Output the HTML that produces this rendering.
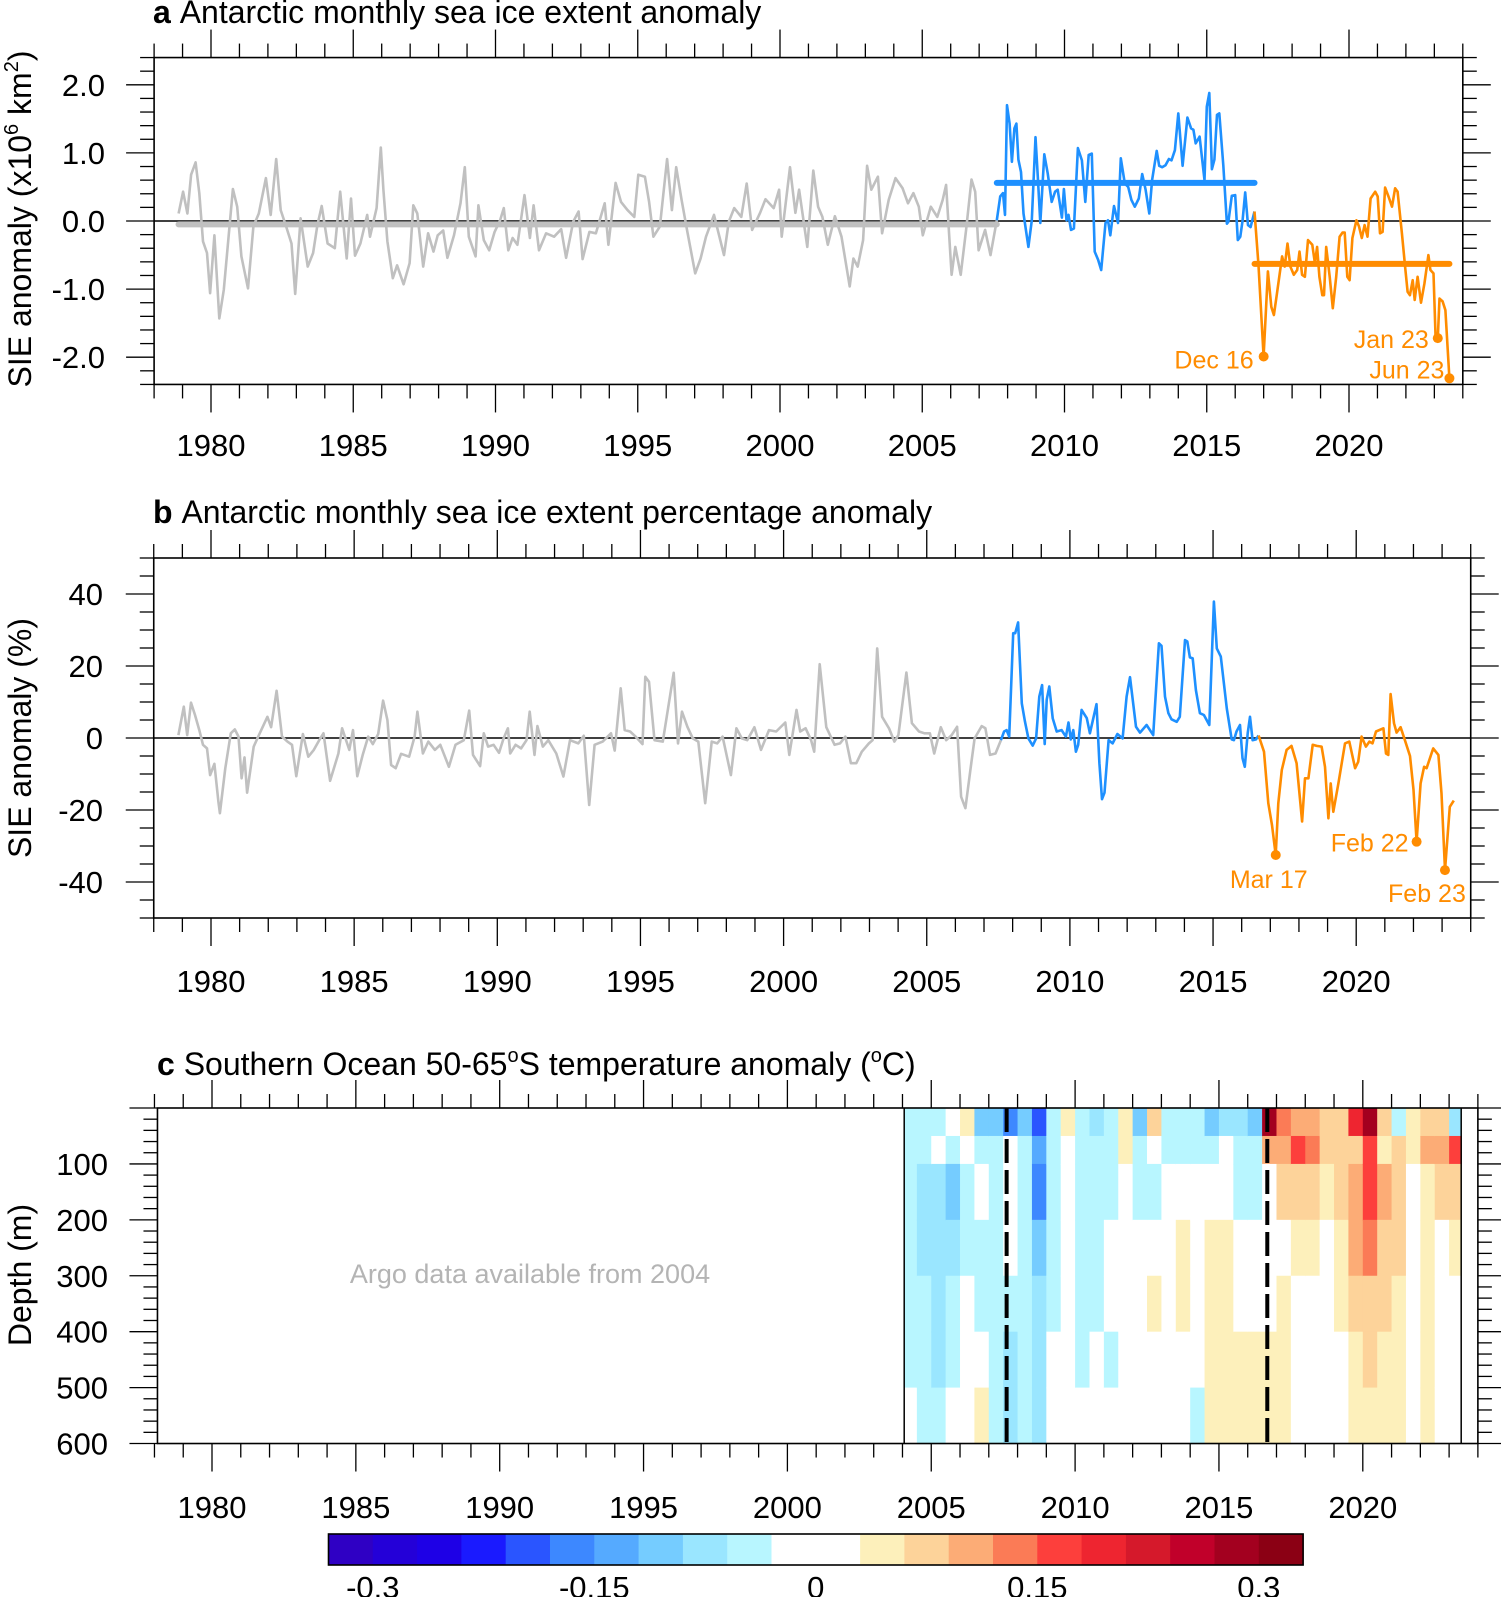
<!DOCTYPE html>
<html><head><meta charset="utf-8">
<style>
html,body{margin:0;padding:0;background:#fff;}
svg{display:block;font-family:"Liberation Sans",Arial,sans-serif;}
</style></head>
<body>
<svg id="fig" width="1501" height="1597" viewBox="0 0 1501 1597" xmlns="http://www.w3.org/2000/svg">
  <g id="pa"></g>
  <g id="pb"></g>
  <g id="pc"></g>
</svg>
<script>
// ---------- Panel a data ----------
const aGrayT=[1978.86,1979.02,1979.17,1979.30,1979.46,1979.59,1979.72,1979.86,1979.97,1980.12,1980.29,1980.45,1980.64,1980.77,1980.92,1981.07,1981.30,1981.49,1981.68,1981.93,1982.10,1982.29,1982.45,1982.64,1982.83,1982.96,1983.15,1983.40,1983.59,1983.74,1983.89,1984.10,1984.35,1984.54,1984.77,1984.92,1985.06,1985.25,1985.49,1985.59,1985.82,1985.97,1986.06,1986.20,1986.39,1986.54,1986.77,1986.98,1987.11,1987.25,1987.46,1987.63,1987.82,1987.97,1988.16,1988.31,1988.54,1988.77,1988.92,1989.06,1989.30,1989.40,1989.59,1989.78,1989.97,1990.16,1990.29,1990.45,1990.60,1990.77,1991.02,1991.21,1991.34,1991.53,1991.78,1992.06,1992.31,1992.48,1992.73,1992.92,1993.06,1993.30,1993.53,1993.84,1993.97,1994.22,1994.41,1994.64,1994.88,1995.02,1995.25,1995.40,1995.55,1995.78,1996.03,1996.20,1996.35,1996.54,1996.73,1997.02,1997.21,1997.40,1997.68,1998.03,1998.20,1998.39,1998.64,1998.83,1999.02,1999.30,1999.49,1999.78,1999.97,2000.06,2000.35,2000.54,2000.67,2000.96,2001.17,2001.34,2001.49,2001.68,2001.93,2002.16,2002.45,2002.58,2002.73,2002.92,2003.06,2003.21,2003.44,2003.59,2003.82,2004.06,2004.31,2004.50,2004.69,2004.88,2005.02,2005.30,2005.53,2005.72,2005.84,2006.03,2006.16,2006.35,2006.54,2006.73,2006.86,2006.98,2007.21,2007.40,2007.62];
const aGrayV=[0.11,0.43,0.11,0.68,0.86,0.41,-0.30,-0.47,-1.06,-0.21,-1.43,-1.01,-0.13,0.47,0.21,-0.52,-0.99,-0.08,0.11,0.63,0.09,0.91,0.16,-0.08,-0.33,-1.07,0.04,-0.67,-0.47,-0.06,0.22,-0.33,-0.40,0.43,-0.55,0.33,-0.51,-0.33,0.09,-0.23,0.19,1.08,0.46,-0.30,-0.84,-0.65,-0.93,-0.62,0.23,0.11,-0.67,-0.18,-0.45,-0.21,-0.14,-0.54,-0.21,0.26,0.79,-0.23,-0.52,0.23,-0.28,-0.43,-0.16,0.01,0.19,-0.43,-0.25,-0.35,0.38,-0.25,0.23,-0.43,-0.18,-0.23,-0.12,-0.54,-0.01,0.14,-0.56,-0.16,-0.18,0.26,-0.35,0.56,0.28,0.16,0.06,0.68,0.65,0.28,-0.23,-0.08,0.91,0.16,0.79,0.31,-0.13,-0.77,-0.55,-0.23,0.09,-0.50,-0.01,0.19,0.06,0.55,-0.13,0.12,0.32,0.19,0.46,-0.23,0.79,0.12,0.46,-0.38,0.74,0.21,0.06,-0.35,0.07,-0.23,-0.96,-0.55,-0.67,-0.28,0.81,0.46,0.65,-0.18,0.31,0.63,0.48,0.26,0.41,0.21,-0.21,0.21,0.06,0.31,0.53,-0.79,-0.38,-0.79,-0.13,0.61,0.43,-0.43,-0.13,-0.50,0.01];
const aBlueT=[2007.62,2007.74,2007.84,2007.91,2007.98,2008.07,2008.15,2008.24,2008.31,2008.38,2008.47,2008.56,2008.73,2008.85,2008.98,2009.06,2009.15,2009.29,2009.41,2009.55,2009.67,2009.76,2009.91,2009.98,2010.07,2010.14,2010.23,2010.33,2010.47,2010.61,2010.73,2010.85,2010.96,2011.06,2011.18,2011.29,2011.44,2011.53,2011.61,2011.74,2011.88,2011.98,2012.12,2012.24,2012.35,2012.47,2012.61,2012.73,2012.85,2012.98,2013.08,2013.24,2013.33,2013.43,2013.55,2013.67,2013.76,2013.88,2014.00,2014.15,2014.32,2014.45,2014.53,2014.61,2014.75,2014.92,2015.00,2015.09,2015.18,2015.27,2015.36,2015.44,2015.58,2015.71,2015.76,2015.88,2016.00,2016.09,2016.18,2016.26,2016.35,2016.45,2016.54,2016.68];
const aBlueV=[0.01,0.36,0.41,0.09,1.70,1.43,0.87,1.36,1.43,0.90,0.72,0.11,-0.38,0.01,1.23,0.65,-0.03,0.98,0.70,0.28,0.43,0.46,0.05,0.47,0.01,0.09,-0.13,-0.11,1.07,0.89,0.28,0.97,0.99,-0.45,-0.57,-0.72,-0.03,0.01,-0.21,0.22,-0.03,0.92,0.55,0.50,0.31,0.21,0.33,0.69,0.46,0.11,0.60,1.03,0.81,0.79,0.82,0.91,0.89,1.04,1.58,0.81,1.52,1.36,1.34,1.14,1.24,0.60,1.68,1.88,0.76,0.90,1.56,1.58,0.82,-0.04,-0.01,0.37,0.38,-0.28,-0.23,0.01,0.42,-0.06,-0.09,0.14];
const aOrangeT=[2016.68,2016.82,2017.00,2017.15,2017.27,2017.36,2017.47,2017.65,2017.74,2017.84,2017.94,2018.06,2018.18,2018.26,2018.35,2018.45,2018.56,2018.71,2018.80,2018.88,2018.96,2019.06,2019.12,2019.20,2019.32,2019.43,2019.55,2019.67,2019.77,2019.85,2019.94,2020.02,2020.12,2020.26,2020.35,2020.45,2020.55,2020.65,2020.76,2020.92,2021.01,2021.09,2021.18,2021.27,2021.39,2021.51,2021.62,2021.71,2021.86,2021.98,2022.06,2022.14,2022.24,2022.31,2022.41,2022.53,2022.65,2022.79,2022.86,2022.97,2023.04,2023.12,2023.18,2023.29,2023.39,2023.53];
const aOrangeV=[0.14,-0.65,-1.99,-0.74,-1.26,-1.38,-1.06,-0.52,-0.67,-0.33,-0.67,-0.79,-0.72,-0.45,-0.79,-0.82,-0.28,-0.35,-0.62,-0.38,-0.82,-1.09,-1.09,-0.38,-0.82,-1.28,-0.82,-0.23,-0.17,-0.17,-0.82,-0.87,-0.25,0.01,-0.08,-0.25,-0.06,-0.23,0.33,0.43,0.36,-0.18,-0.16,0.49,0.36,0.21,0.48,0.43,-0.18,-0.70,-1.04,-1.09,-0.87,-1.16,-0.82,-1.20,-0.92,-0.50,-0.72,-0.77,-1.67,-1.72,-1.14,-1.18,-1.31,-2.31];
const aMeans=[-0.05,0.56,-0.63];
const aMarkT=[2017.00,2023.12,2023.53];
const aMarkV=[-1.99,-1.72,-2.31];
const aMarkLbl=["Dec 16","Jan 23","Jun 23"];
const aYTicks=[2.0,1.0,0.0,-1.0,-2.0];
const aYLabels=["2.0","1.0","0.0","-1.0","-2.0"];
const yearTicks=[1980,1985,1990,1995,2000,2005,2010,2015,2020];

// ---------- Panel b data ----------
const bGrayT=[1978.86,1979.05,1979.17,1979.30,1979.44,1979.59,1979.72,1979.86,1979.97,1980.12,1980.26,1980.31,1980.50,1980.69,1980.83,1980.96,1981.07,1981.17,1981.26,1981.49,1981.65,1981.97,1982.10,1982.29,1982.48,1982.67,1982.83,1982.98,1983.21,1983.40,1983.59,1983.78,1983.93,1984.16,1984.45,1984.58,1984.83,1984.96,1985.11,1985.30,1985.49,1985.65,1985.84,1986.01,1986.16,1986.29,1986.45,1986.64,1986.92,1987.11,1987.21,1987.40,1987.59,1987.82,1988.01,1988.31,1988.54,1988.83,1989.02,1989.15,1989.40,1989.53,1989.68,1989.87,1990.06,1990.22,1990.37,1990.45,1990.64,1990.83,1991.02,1991.13,1991.30,1991.40,1991.59,1991.78,1992.06,1992.31,1992.54,1992.83,1993.02,1993.21,1993.40,1993.68,1993.97,1994.10,1994.31,1994.45,1994.64,1994.83,1995.07,1995.17,1995.30,1995.49,1995.78,1996.16,1996.31,1996.45,1996.64,1996.83,1997.02,1997.26,1997.49,1997.68,1997.87,1998.16,1998.35,1998.54,1998.73,1998.98,1999.21,1999.49,1999.74,2000.06,2000.20,2000.45,2000.58,2000.77,2000.96,2001.07,2001.26,2001.49,2001.78,2001.97,2002.16,2002.35,2002.54,2002.73,2002.98,2003.11,2003.27,2003.44,2003.68,2003.87,2004.01,2004.29,2004.48,2004.73,2004.92,2005.11,2005.26,2005.49,2005.68,2005.87,2006.06,2006.20,2006.35,2006.54,2006.67,2006.92,2007.05,2007.21,2007.40,2007.59];
const bGrayV=[0.8,8.7,0.8,9.8,6.4,2.2,-1.9,-2.9,-10.3,-7.2,-17.7,-20.9,-8.4,1.3,2.4,0.4,-11.2,-5.4,-15.2,-2.4,0.4,5.9,3.0,13.1,0.4,-1.0,-1.9,-10.6,1.1,-5.2,-3.3,-0.6,1.3,-11.9,-4.3,2.7,-3.3,2.2,-10.6,-4.7,0.4,-1.7,1.1,10.4,5.0,-7.5,-8.4,-4.4,-5.2,0.4,7.3,-4.3,-1.0,-3.3,-1.9,-8.0,-1.9,-0.6,7.6,-4.7,-7.8,1.3,-2.4,-1.9,-4.1,-0.1,2.7,-4.3,-1.9,-2.9,-0.6,7.3,-4.7,3.3,-2.4,-0.6,-4.3,-10.7,-0.6,-1.5,0.6,-18.6,-1.9,-1.0,1.3,-3.5,13.8,2.2,1.8,0.4,-1.7,17.0,15.6,-0.6,-1.0,18.1,-1.5,7.3,3.1,-0.1,-1.0,-18.1,-1.0,-1.5,0.4,-10.3,2.7,-0.1,-0.6,3.0,-3.3,2.2,1.8,4.3,-4.7,7.8,1.8,2.7,-0.6,-3.8,20.5,3.0,-1.9,-1.5,0.4,-7.0,-7.0,-3.8,-1.5,-0.6,24.9,5.9,2.7,-1.0,0.8,18.2,4.1,1.8,1.3,1.3,-4.3,3.0,-0.6,0.8,3.1,-16.3,-19.5,-8.0,-0.1,3.3,2.7,-4.7,-4.3,-0.6];
const bBlueT=[2007.59,2007.70,2007.79,2007.88,2008.02,2008.09,2008.19,2008.32,2008.43,2008.55,2008.70,2008.82,2008.93,2009.03,2009.12,2009.19,2009.28,2009.40,2009.54,2009.71,2009.86,2009.95,2010.03,2010.12,2010.21,2010.29,2010.41,2010.59,2010.70,2010.93,2011.03,2011.12,2011.21,2011.35,2011.49,2011.66,2011.84,2011.98,2012.10,2012.31,2012.45,2012.68,2012.91,2013.11,2013.20,2013.32,2013.44,2013.55,2013.73,2013.84,2014.02,2014.10,2014.19,2014.29,2014.40,2014.54,2014.68,2014.87,2015.03,2015.13,2015.27,2015.48,2015.65,2015.73,2015.82,2015.94,2016.03,2016.11,2016.21,2016.29,2016.38,2016.50,2016.59];
const bBlueV=[-0.6,1.8,2.2,0.4,29.1,29.1,32.1,9.6,4.5,-0.1,-2.1,-0.1,11.5,14.7,-1.7,10.6,14.3,5.5,1.8,2.2,0.4,4.3,-0.4,2.2,-3.8,-1.9,7.8,5.5,1.3,9.4,-7.0,-17.0,-15.2,-0.6,-1.5,1.1,-0.1,11.5,16.9,3.1,1.5,3.6,0.8,26.3,25.6,11.5,6.9,5.2,4.5,5.9,27.2,26.8,22.4,22.1,13.3,6.9,6.4,3.6,37.9,24.9,22.6,8.2,-0.4,-0.6,1.8,3.6,-5.6,-8.0,1.3,5.9,-0.6,-0.4,0.7];
const bOrangeT=[2016.59,2016.78,2016.93,2017.06,2017.19,2017.28,2017.40,2017.57,2017.74,2017.92,2018.11,2018.21,2018.33,2018.48,2018.62,2018.79,2018.91,2019.03,2019.11,2019.20,2019.38,2019.61,2019.76,2019.96,2020.07,2020.19,2020.34,2020.46,2020.57,2020.69,2020.95,2021.04,2021.12,2021.20,2021.32,2021.41,2021.55,2021.70,2021.88,2022.00,2022.11,2022.25,2022.37,2022.46,2022.69,2022.87,2022.98,2023.10,2023.27,2023.41];
const bOrangeV=[0.7,-3.8,-18.1,-24.2,-32.5,-18.1,-8.9,-3.3,-2.2,-7.0,-23.2,-11.2,-11.2,-1.9,-2.2,-2.4,-8.0,-22.3,-12.6,-20.5,-12.6,-1.5,-1.0,-8.4,-6.6,0.4,-2.4,-1.0,-1.5,1.8,2.7,-4.3,-4.7,12.2,4.1,1.5,3.0,-0.6,-5.0,-14.4,-28.8,-12.6,-8.0,-8.4,-2.9,-4.7,-15.4,-36.7,-19.1,-17.4];
const bMarkT=[2017.19,2022.11,2023.10];
const bMarkV=[-32.5,-28.8,-36.7];
const bMarkLbl=["Mar 17","Feb 22","Feb 23"];
const bYTicks=[40,20,0,-20,-40];
const bYLabels=["40","20","0","-20","-40"];

// ---------- Panel c data ----------
const cDepthEdges=[0,50,100,200,300,400,500,600];
const cTimeStart=[2004.06,2004.5,2005.0,2005.5,2006.0,2006.5,2007.0,2007.5,2008.0,2008.5,2009.0,2009.5,2010.0,2010.5,2011.0,2011.5,2012.0,2012.5,2013.0,2013.5,2014.0,2014.5,2015.0,2015.5,2016.0,2016.5,2017.0,2017.5,2018.0,2018.5,2019.0,2019.5,2020.0,2020.5,2021.0,2021.5,2022.0,2022.5,2023.0];
const cTimeEnd=2023.42;
const cTemp=[
[-0.05,-0.06,-0.06,-0.05,-0.05,-0.04,-0.03],
[-0.06,-0.05,-0.08,-0.08,-0.06,-0.06,-0.05],
[-0.04,-0.03,-0.07,-0.07,-0.07,-0.07,-0.06],
[0.02,-0.05,-0.10,-0.07,-0.04,-0.04,-0.02],
[0.03,0.0,-0.04,-0.04,-0.03,-0.02,-0.01],
[-0.10,-0.04,-0.03,-0.04,-0.04,0.02,0.03],
[-0.12,-0.06,-0.05,-0.06,-0.06,-0.04,-0.04],
[-0.18,-0.02,0.01,-0.03,-0.06,-0.07,-0.07],
[-0.12,-0.04,-0.05,-0.04,-0.05,-0.05,-0.05],
[-0.20,-0.15,-0.16,-0.12,-0.08,-0.07,-0.07],
[-0.06,-0.05,-0.06,-0.05,-0.04,-0.03,-0.03],
[0.04,0.0,0.0,-0.02,0.0,0.0,0.0],
[-0.05,-0.05,-0.04,-0.05,-0.04,-0.04,-0.03],
[-0.08,-0.05,-0.04,-0.04,-0.04,-0.03,-0.03],
[-0.06,-0.04,-0.04,-0.03,-0.03,-0.04,-0.03],
[0.03,0.04,0.02,0.0,-0.01,-0.03,-0.02],
[-0.12,-0.05,-0.04,-0.03,-0.02,0.0,0.0],
[0.08,-0.03,-0.04,0.01,0.03,0.02,0.0],
[-0.04,-0.04,-0.03,0.0,0.0,0.0,-0.02],
[-0.06,-0.05,-0.02,0.04,0.03,0.02,0.01],
[-0.05,-0.04,0.0,0.02,0.02,-0.03,-0.04],
[-0.12,-0.06,0.02,0.04,0.05,0.05,0.05],
[-0.08,-0.03,0.02,0.03,0.05,0.05,0.04],
[-0.08,-0.06,-0.06,0.0,0.02,0.03,0.03],
[-0.12,-0.06,-0.04,0.0,0.02,0.04,0.04],
[0.28,0.10,0.02,0.01,0.02,0.03,0.03],
[0.12,0.10,0.06,0.02,0.03,0.03,0.03],
[0.10,0.15,0.08,0.04,0.02,0.0,0.0],
[0.10,0.12,0.06,0.03,0.01,0.0,0.0],
[0.06,0.06,0.03,0.01,0.0,0.0,0.0],
[0.06,0.08,0.08,0.05,0.03,0.02,0.0],
[0.20,0.08,0.10,0.09,0.06,0.05,0.04],
[0.28,0.15,0.16,0.14,0.08,0.06,0.05],
[0.06,0.05,0.10,0.08,0.06,0.05,0.04],
[-0.06,0.06,0.06,0.06,0.05,0.05,0.05],
[0.04,0.03,0.02,0.01,0.01,0.0,0.0],
[0.06,0.09,0.05,0.03,0.03,0.04,0.03],
[0.06,0.10,0.06,0.02,0.02,0.02,0.02],
[-0.08,0.15,0.06,0.03,0.02,0.02,0.02]];
const cDashT=[2007.62,2016.68];
const cDepthTicks=[100,200,300,400,500,600];
const cbarColors=["#2f00c4","#2400d8","#1e00e6","#1a1aff","#2a55ff","#3d88ff","#55aaff","#75ccff","#9ae6ff","#b8f6ff","#ffffff","#ffffff","#fdf0bb","#fdd39a","#fcac76","#fb7b56","#fd3f3c","#ee2530","#d5192b","#c1002a","#a3001f","#8b0014"];
const cbarTickVals=[-0.3,-0.15,0,0.15,0.3];
const cbarTickLbl=["-0.3","-0.15","0","0.15","0.3"];

// ---------- helpers ----------
const NS="http://www.w3.org/2000/svg";
function el(parent,tag,attrs,text){
  const e=document.createElementNS(NS,tag);
  for(const k in attrs) e.setAttribute(k,attrs[k]);
  if(text!==undefined) e.textContent=text;
  parent.appendChild(e);
  return e;
}
const GRAY="#c0c0c0",BLUE="#1e90ff",ORANGE="#ff8c00";
const TICKFS=31, TITLEFS=32, AXTFS=32;

function drawFrame(g,x0,x1,y0,y1,xs,yMaj,yMinStep,yMin,yMax,ys){
  const fr=el(g,'rect',{x:x0,y:y0,width:x1-x0,height:y1-y0,fill:'none',stroke:'#000','stroke-width':1.6});
  
  
  for(let yr=1978;yr<=2024;yr++){
    const x=xs(yr); const L=(yr%5===0)?28:14;
    const t1=el(g,'line',{x1:x,x2:x,y1:y0,y2:y0-L,stroke:'#000','stroke-width':1.3});
    
    
    const t2=el(g,'line',{x1:x,x2:x,y1:y1,y2:y1+L,stroke:'#000','stroke-width':1.3});
    
    
  }
  const n=Math.round((yMax-yMin)/yMinStep);
  for(let i=0;i<=n;i++){
    const v=yMin+i*yMinStep; const y=ys(v);
    const isMaj=yMaj.some(m=>Math.abs(m-v)<1e-6); const L=isMaj?28:14;
    const t1=el(g,'line',{x1:x0,x2:x0-L,y1:y,y2:y,stroke:'#000','stroke-width':1.3});
    
    
    const t2=el(g,'line',{x1:x1,x2:x1+L,y1:y,y2:y,stroke:'#000','stroke-width':1.3});
    
    
  }
}
function yearLabels(g,xs,y){
  yearTicks.forEach(yr=>{
    const t=el(g,'text',{x:xs(yr),y:y,'font-size':TICKFS,'text-anchor':'middle'},String(yr));
    
    
  });
}
function yLabels(g,vals,lbls,ys,xr){
  vals.forEach((v,i)=>{
    const t=el(g,'text',{x:xr,y:ys(v)+11,'font-size':TICKFS,'text-anchor':'end'},lbls[i]);
    
    
  });
}
function series(g,T,V,xs,ys,color,name){
  const d=T.map((t,i)=>(i?'L':'M')+xs(t).toFixed(1)+','+ys(V[i]).toFixed(1)).join('');
  const p=el(g,'path',{d:d,fill:'none',stroke:color,'stroke-width':2.6,'stroke-linejoin':'round'});
  
  
}
function markers(g,T,V,L,xs,ys,offs){
  T.forEach((t,i)=>{
    const c=el(g,'circle',{cx:xs(t),cy:ys(V[i]),r:5,fill:ORANGE});
    
    
    const tx=el(g,'text',{x:xs(t)+offs[i][0],y:ys(V[i])+offs[i][1],'font-size':25,fill:ORANGE,'text-anchor':offs[i][2]},L[i]);
    
    
  });
}
function title(g,x,y,letter,rest){
  const t=el(g,'text',{x:x,y:y,'font-size':TITLEFS});
  
  
  el(t,'tspan',{'font-weight':'bold'},letter+' ');
  el(t,'tspan',{},rest);
  return t;
}

// ---------- Panel a ----------
(function(){
  const g=document.getElementById('pa');
  const xs=t=>211+(t-1980)*28.45, ys=v=>221-v*68.1;
  const X0=xs(1978),X1=xs(2024),Y0=ys(2.4),Y1=ys(-2.4);
  title(g,153,23,'a','Antarctic monthly sea ice extent anomaly');
  const z=el(g,'line',{x1:X0,x2:X1,y1:ys(0),y2:ys(0),stroke:'#000','stroke-width':1.5});
  
  
  series(g,aGrayT,aGrayV,xs,ys,GRAY,'sie-anomaly-line-pre-2007');
  series(g,aBlueT,aBlueV,xs,ys,BLUE,'sie-anomaly-line-2007-2016');
  series(g,aOrangeT,aOrangeV,xs,ys,ORANGE,'sie-anomaly-line-post-2016');
  const segs=[[aGrayT[0],aGrayT[aGrayT.length-1],GRAY],[aBlueT[0],aBlueT[aBlueT.length-1],BLUE],[aOrangeT[0],aOrangeT[aOrangeT.length-1],ORANGE]];
  segs.forEach((s,i)=>{
    const m=el(g,'line',{x1:xs(s[0]),x2:xs(s[1]),y1:ys(aMeans[i]),y2:ys(aMeans[i]),stroke:s[2],'stroke-width':6,'stroke-linecap':'round'});
    
    
  });
  markers(g,aMarkT,aMarkV,aMarkLbl,xs,ys,[[-10,12,'end'],[-9,10,'end'],[-5,0,'end']]);
  drawFrame(g,X0,X1,Y0,Y1,xs,aYTicks,0.2,-2.4,2.4,ys);
  yLabels(g,aYTicks,aYLabels,ys,105);
  yearLabels(g,xs,456);
  const yt=el(g,'text',{transform:'translate(31,219) rotate(-90)','font-size':AXTFS,'text-anchor':'middle'});
  
  
  el(yt,'tspan',{},'SIE anomaly (x10');
  el(yt,'tspan',{'font-size':20,dy:-13},'6');
  el(yt,'tspan',{dy:13},' km');
  el(yt,'tspan',{'font-size':20,dy:-13},'2');
  el(yt,'tspan',{dy:13},')');
})();

// ---------- Panel b ----------
(function(){
  const g=document.getElementById('pb');
  const xs=t=>211+(t-1980)*28.63, ys=v=>738-v*3.6;
  const X0=xs(1978),X1=xs(2024),Y0=ys(50),Y1=ys(-50);
  title(g,153,523,'b','Antarctic monthly sea ice extent percentage anomaly');
  const z=el(g,'line',{x1:X0,x2:X1,y1:ys(0),y2:ys(0),stroke:'#000','stroke-width':1.5});
  
  
  series(g,bGrayT,bGrayV,xs,ys,GRAY,'sie-pct-line-pre-2007');
  series(g,bBlueT,bBlueV,xs,ys,BLUE,'sie-pct-line-2007-2016');
  series(g,bOrangeT,bOrangeV,xs,ys,ORANGE,'sie-pct-line-post-2016');
  markers(g,bMarkT,bMarkV,bMarkLbl,xs,ys,[[-7,33,'middle'],[-8,10,'end'],[-18,32,'middle']]);
  drawFrame(g,X0,X1,Y0,Y1,xs,bYTicks,5,-50,50,ys);
  yLabels(g,bYTicks,bYLabels,ys,103);
  yearLabels(g,xs,992);
  const yt=el(g,'text',{transform:'translate(31,738) rotate(-90)','font-size':AXTFS,'text-anchor':'middle'},'SIE anomaly (%)');
  
  
})();

// ---------- Panel c ----------
(function(){
  const g=document.getElementById('pc');
  const xs=t=>212+(t-1980)*28.77, ys=d=>1108+d*0.5592;
  const X0=xs(1978)+3,X1=xs(2024),Y0=ys(0),Y1=ys(600);
  const t=el(g,'text',{x:157,y:1075,'font-size':TITLEFS});
  
  
  el(t,'tspan',{'font-weight':'bold'},'c ');
  el(t,'tspan',{},'Southern Ocean 50-65');
  el(t,'tspan',{'font-size':20,dy:-13},'o');
  el(t,'tspan',{dy:13},'S temperature anomaly (');
  el(t,'tspan',{'font-size':20,dy:-13},'o');
  el(t,'tspan',{dy:13},'C)');
  const colorOf=v=>{let k=Math.floor((v+0.33)/0.03);k=Math.max(0,Math.min(21,k));return cbarColors[k];};
  cTimeStart.forEach((ts,i)=>{
    const te=(i<cTimeStart.length-1)?cTimeStart[i+1]:cTimeEnd;
    for(let j=0;j<cDepthEdges.length-1;j++){
      const r=el(g,'rect',{x:xs(ts),y:ys(cDepthEdges[j]),width:xs(te)-xs(ts)+0.6,height:ys(cDepthEdges[j+1])-ys(cDepthEdges[j])+0.6,fill:colorOf(cTemp[i][j])});
      
      
    }
  });
  const b1=el(g,'line',{x1:xs(cTimeStart[0]),x2:xs(cTimeStart[0]),y1:Y0,y2:Y1,stroke:'#000','stroke-width':1.5});
  
  
  const b2=el(g,'line',{x1:xs(cTimeEnd),x2:xs(cTimeEnd),y1:Y0,y2:Y1,stroke:'#000','stroke-width':1.5});
  
  
  cDashT.forEach(dt=>{
    const d=el(g,'line',{x1:xs(dt),x2:xs(dt),y1:Y0,y2:Y1,stroke:'#000','stroke-width':4,'stroke-dasharray':'24,7'});
    
    
  });
  for(let d=0;d<=600;d+=20){
    const L=(d%100===0)?28:14;
    const a=el(g,'line',{x1:X0,x2:X0-L,y1:ys(d),y2:ys(d),stroke:'#000','stroke-width':1.3});
    
    
    const b=el(g,'line',{x1:X1,x2:X1+L,y1:ys(d),y2:ys(d),stroke:'#000','stroke-width':1.3});
    
    
  }
  for(let yr=1978;yr<=2024;yr++){
    const x=xs(yr),L=(yr%5===0)?28:14;
    const a=el(g,'line',{x1:x,x2:x,y1:Y0,y2:Y0-L,stroke:'#000','stroke-width':1.3});
    
    
    const b=el(g,'line',{x1:x,x2:x,y1:Y1,y2:Y1+L,stroke:'#000','stroke-width':1.3});
    
    
  }
  const fr=el(g,'rect',{x:X0,y:Y0,width:X1-X0,height:Y1-Y0,fill:'none',stroke:'#000','stroke-width':1.6});
  
  
  cDepthTicks.forEach(d=>{
    const tl=el(g,'text',{x:108,y:ys(d)+11,'font-size':TICKFS,'text-anchor':'end'},String(d));
    
    
  });
  yearLabels(g,xs,1518);
  const yt=el(g,'text',{transform:'translate(31,1275) rotate(-90)','font-size':AXTFS,'text-anchor':'middle'},'Depth (m)');
  
  
  const ar=el(g,'text',{x:530,y:1283,'font-size':27,fill:'#b4b4b4','text-anchor':'middle'},'Argo data available from 2004');
  
  
  const cb=el(g,'g',{});
  
  
  const cx0=328.5,cw=44.3,cy0=1534,ch=31;
  cbarColors.forEach((c,i)=>{
    const r=el(cb,'rect',{x:cx0+i*cw,y:cy0,width:cw+0.5,height:ch,fill:c});
    
    
  });
  const o=el(cb,'rect',{x:cx0,y:cy0,width:cw*22,height:ch,fill:'none',stroke:'#000','stroke-width':1.6});
  
  
  cbarTickVals.forEach((v,i)=>{
    const x=cx0+(v+0.33)/0.03*cw;
    const tl=el(cb,'text',{x:x,y:1598,'font-size':TICKFS,'text-anchor':'middle'},cbarTickLbl[i]);
    
    
  });
})();
</script>
</body></html>
